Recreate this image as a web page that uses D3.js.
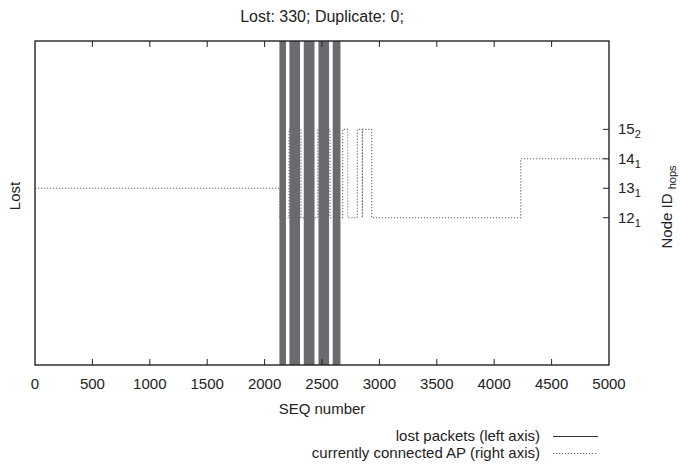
<!DOCTYPE html>
<html>
<head>
<meta charset="utf-8">
<script src="https://cdn.jsdelivr.net/npm/d3@7"></script>
<style>
    body { margin: 0; background: #fff; }
    text { font-family: 'Liberation Sans', Arial, sans-serif; fill: #222; }
</style>
</head>
<body>
<div id="chart"></div>
<script>
// lost packet runs (first and last SEQ of each run)
const lostStart = [2137, 2224, 2349, 2477, 2601];
const lostEnd = [2178, 2301, 2427, 2554, 2653];
const duplicates = 0;

// connected AP, step changes: SEQ where it changes, node id
const apSeq = [0, 2134, 2213, 2317, 2463, 2570, 2680, 2724, 2808, 2851, 2852, 2933, 4231, 5000];
const apNode = [13, 12, 15, 12, 15, 12, 15, 12, 15, 12, 15, 12, 14, 14];

const xTicks = [0, 500, 1000, 1500, 2000, 2500, 3000, 3500, 4000, 4500, 5000];
const nodeTicks = [12, 13, 14, 15];
const nodeHops = [1, 1, 1, 2];

function drawChart(selector) {
    const width = 680;
    const height = 466;
    const margin = { top: 41, right: 71, bottom: 101, left: 35 };

    const svg = d3.select(selector)
        .append('svg')
        .attr('width', width)
        .attr('height', height);

    const x = d3.scaleLinear()
        .domain([0, 5000])
        .range([margin.left, width - margin.right]);

    const y2 = d3.scaleLinear()
        .domain([7, 18])
        .range([height - margin.bottom, margin.top]);

    const top = margin.top;
    const bottom = height - margin.bottom;

    const totalLost = d3.sum(lostStart, (s, i) => lostEnd[i] - s + 1);

    svg.append('text')
        .attr('x', (x.range()[0] + x.range()[1]) / 2)
        .attr('y', 22)
        .attr('text-anchor', 'middle')
        .attr('font-size', '16px')
        .text(`Lost: ${totalLost}; Duplicate: ${duplicates};`);

    // lost packets, full-height impulses merged into runs
    svg.append('g')
        .selectAll('rect')
        .data(lostStart.map((s, i) => ({ start: s, end: lostEnd[i] })))
        .enter()
        .append('rect')
        .attr('x', d => x(d.start) - 0.9)
        .attr('width', d => x(d.end) - x(d.start) + 1.8)
        .attr('y', top)
        .attr('height', bottom - top)
        .attr('fill', '#6b6b6f');

    // connected AP (right axis)
    const apLine = d3.line()
        .x(d => x(d.seq))
        .y(d => y2(d.node))
        .curve(d3.curveStepAfter);

    svg.append('path')
        .datum(apSeq.map((s, i) => ({ seq: s, node: apNode[i] })))
        .attr('d', apLine)
        .attr('fill', 'none')
        .attr('stroke', '#666')
        .attr('stroke-width', 1.1)
        .attr('stroke-dasharray', '1.2,1.8');

    // x ticks, bottom and mirrored on top
    const ticks = svg.append('g');
    ticks.selectAll('line.b')
        .data(xTicks.slice(1, -1))
        .enter()
        .append('line')
        .attr('x1', d => x(d)).attr('x2', d => x(d))
        .attr('y1', bottom).attr('y2', bottom - 6)
        .attr('stroke', '#222');
    ticks.selectAll('line.t')
        .data(xTicks.slice(1, -1))
        .enter()
        .append('line')
        .attr('x1', d => x(d)).attr('x2', d => x(d))
        .attr('y1', top).attr('y2', top + 6)
        .attr('stroke', '#222');

    ticks.selectAll('text')
        .data(xTicks)
        .enter()
        .append('text')
        .attr('x', d => x(d))
        .attr('y', 389)
        .attr('text-anchor', 'middle')
        .attr('font-size', '15px')
        .text(d => d);

    // right axis ticks
    ticks.selectAll('line.r')
        .data(nodeTicks)
        .enter()
        .append('line')
        .attr('x1', x.range()[1]).attr('x2', x.range()[1] - 6)
        .attr('y1', d => y2(d)).attr('y2', d => y2(d))
        .attr('stroke', '#222');

    const nodeLabels = svg.append('g')
        .selectAll('text')
        .data(nodeTicks)
        .enter()
        .append('text')
        .attr('x', 618)
        .attr('y', d => y2(d) + 5)
        .attr('font-size', '15px');
    nodeLabels.append('tspan').text(d => d);
    nodeLabels.append('tspan')
        .attr('dy', 4)
        .attr('font-size', '11px')
        .text((d, i) => nodeHops[i]);

    // frame
    svg.append('rect')
        .attr('x', x.range()[0])
        .attr('y', top)
        .attr('width', x.range()[1] - x.range()[0])
        .attr('height', bottom - top)
        .attr('fill', 'none')
        .attr('stroke', '#222')
        .attr('stroke-width', 1.4);

    svg.append('text')
        .attr('x', (x.range()[0] + x.range()[1]) / 2)
        .attr('y', 414)
        .attr('text-anchor', 'middle')
        .attr('font-size', '15px')
        .text('SEQ number');

    svg.append('text')
        .attr('transform', 'translate(20,196) rotate(-90)')
        .attr('text-anchor', 'middle')
        .attr('font-size', '15px')
        .text('Lost');

    const y2Title = svg.append('text')
        .attr('transform', 'translate(672,207) rotate(-90)')
        .attr('text-anchor', 'middle')
        .attr('font-size', '15px');
    y2Title.append('tspan').text('Node ID ');
    y2Title.append('tspan')
        .attr('dy', 4)
        .attr('font-size', '11px')
        .text('hops');

    // legend
    const legend = [
        { label: 'lost packets (left axis)', dash: null, y: 441 },
        { label: 'currently connected AP (right axis)', dash: '1.2,1.8', y: 458 }
    ];
    const lg = svg.append('g')
        .selectAll('g')
        .data(legend)
        .enter()
        .append('g');
    lg.append('text')
        .attr('x', 540)
        .attr('y', d => d.y)
        .attr('text-anchor', 'end')
        .attr('font-size', '15px')
        .text(d => d.label);
    lg.append('line')
        .attr('x1', 553).attr('x2', 598)
        .attr('y1', d => d.y - 4.5).attr('y2', d => d.y - 4.5)
        .attr('stroke', d => d.dash ? '#666' : '#333')
        .attr('stroke-width', d => d.dash ? 1.1 : 1)
        .attr('stroke-dasharray', d => d.dash);
}

drawChart('#chart');
</script>
</body>
</html>
